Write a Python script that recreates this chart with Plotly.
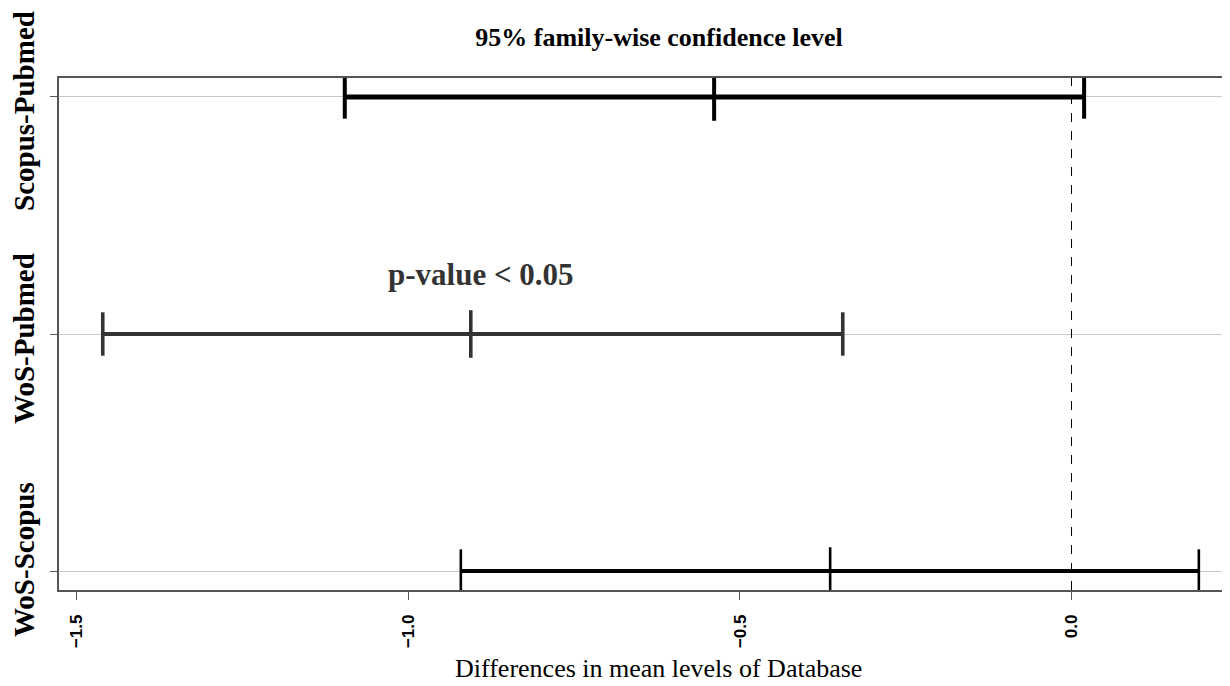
import plotly.graph_objects as go

# Tukey HSD comparisons (top to bottom in the chart)
comparisons = ["Scopus-Pubmed", "WoS-Pubmed", "WoS-Scopus"]
diff = [-0.539, -0.906, -0.364]
lwr = [-1.096, -1.461, -0.921]
upr = [0.019, -0.345, 0.192]

x_ticks = [-1.5, -1.0, -0.5, 0.0]

title_text = "95% family-wise confidence level"
x_title = "Differences in mean levels of Database"
note_text = "p-value < 0.05"

line_colors = ["#000000", "#333333", "#000000"]
line_widths = [5, 4, 4]
cap_widths = [4, 3.6, 2.6]
label_shift = [-14, -4, 12]

fig = go.Figure()

for i, name in enumerate(comparisons):
    fig.add_trace(go.Scatter(
        x=[lwr[i], diff[i], upr[i]],
        y=[name, name, name],
        mode="lines+markers",
        line=dict(color=line_colors[i], width=line_widths[i]),
        marker=dict(symbol="line-ns", size=[31, 34, 31], color=line_colors[i],
                    opacity=1,
                    line=dict(color=line_colors[i], width=cap_widths[i])),
        showlegend=False,
        hoverinfo="x+y",
    ))
    # row label (rotated, like the axis labels of the original)
    fig.add_annotation(
        x=-0.0299, xref="paper", y=name, yref="y", yshift=label_shift[i],
        text=name, textangle=-90, showarrow=False,
        xanchor="center", yanchor="middle",
        font=dict(family="Liberation Serif", size=29, color="#000000", weight="bold"),
    )

# zero reference line
fig.add_vline(x=0, line=dict(color="#000000", width=1, dash="dash"))

fig.add_annotation(
    x=-0.891, y="WoS-Pubmed", xref="x", yref="y", yshift=60,
    text=note_text, showarrow=False,
    font=dict(family="Liberation Serif", size=31, color="#333333", weight="bold"),
)

# page is offset by the 8px body margin; figure is 1222x678
fig.add_annotation(
    x=(650 - 51) / 1171, y=-(660 - 582) / 512, xref="paper", yref="paper",
    text=x_title, showarrow=False, yanchor="middle",
    font=dict(family="Liberation Serif", size=26, color="#000000"),
)

fig.update_layout(
    width=1222, height=678,
    margin=dict(l=51, r=0, t=70, b=96),
    paper_bgcolor="white", plot_bgcolor="white",
    title=dict(text=title_text, x=651 / 1222, xanchor="center",
               y=1 - 29 / 678, yanchor="middle", xref="container", yref="container",
               font=dict(family="Liberation Serif", size=26, color="#000000", weight="bold")),
)

fig.update_xaxes(
    range=[-1.527, 0.239], automargin=False,
    tickvals=x_ticks, tickformat=".1f", tickangle=-90,
    ticks="outside", ticklen=8, tickcolor="#555555", tickwidth=1.3,
    showline=True, mirror=True, linecolor="#555555", linewidth=1.5,
    showgrid=False, zeroline=False,
    tickfont=dict(family="Liberation Sans", size=17, color="#000000", weight="bold"),
    ticklabelstandoff=8,
)

fig.update_yaxes(
    type="category", automargin=False,
    categoryorder="array", categoryarray=comparisons[::-1],
    range=[-0.08, 2.08],
    showticklabels=False,
    ticks="outside", ticklen=7, tickcolor="#555555", tickwidth=1.3,
    showline=True, mirror=False, linecolor="#555555", linewidth=1.5,
    showgrid=True, gridcolor="#c8c8c8", gridwidth=1, zeroline=False,
)

fig.write_html("out.html")
